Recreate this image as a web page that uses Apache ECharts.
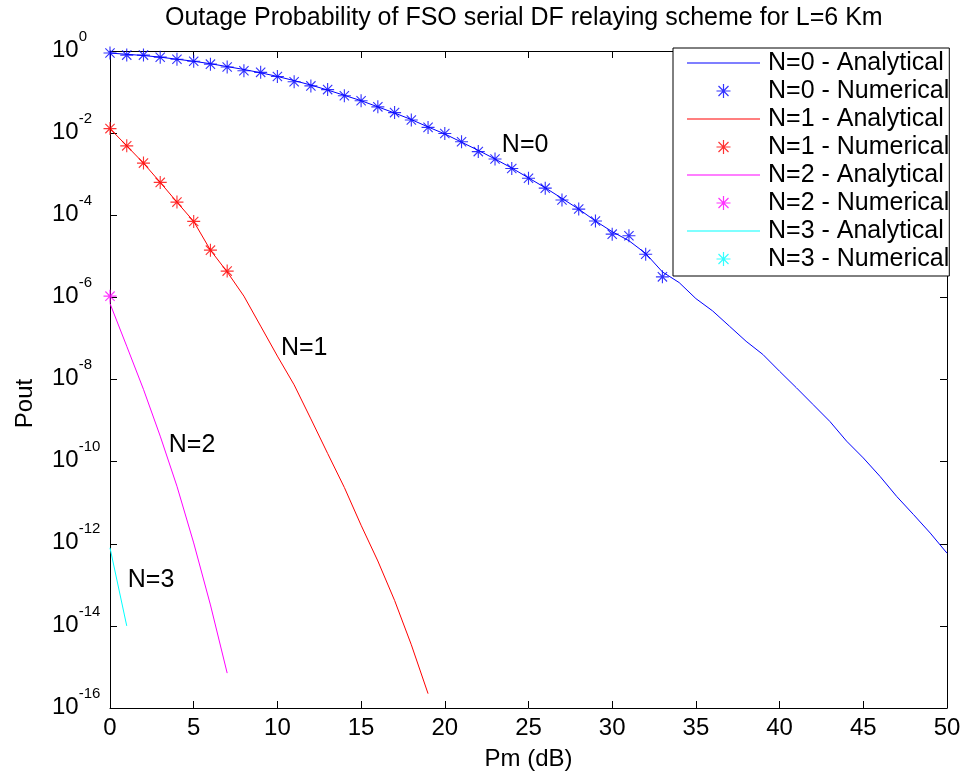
<!DOCTYPE html>
<html>
<head>
<meta charset="utf-8">
<script src="https://cdn.jsdelivr.net/npm/echarts@6/dist/echarts.min.js"></script>
<style>html,body{margin:0;padding:0;background:#fff}#c{width:964px;height:778px}</style>
</head>
<body>
<div id="c"></div>
<script>
// ---- data (y values are log10(Pout)) ----
const xTicks = [0, 5, 10, 15, 20, 25, 30, 35, 40, 45, 50];
const yTickExponents = [0, -2, -4, -6, -8, -10, -12, -14, -16];

const n0AnalyticX = [0,1,2,3,4,5,6,7,8,9,10,11,12,13,14,15,16,17,18,19,20,21,22,23,24,25,26,27,28,29,30,31,32,33,34,35,36,37,38,39,40,41,42,43,44,45,46,47,48,49,50];
const n0AnalyticLog = [-0.05,-0.08,-0.11,-0.15,-0.20,-0.25,-0.31,-0.38,-0.45,-0.53,-0.62,-0.72,-0.83,-0.95,-1.08,-1.21,-1.36,-1.51,-1.67,-1.85,-2.02,-2.22,-2.42,-2.63,-2.85,-3.09,-3.33,-3.59,-3.85,-4.14,-4.40,-4.62,-4.93,-5.38,-5.64,-6.03,-6.33,-6.70,-7.07,-7.39,-7.80,-8.20,-8.61,-9.02,-9.50,-9.91,-10.36,-10.85,-11.29,-11.74,-12.23];
const n0NumericX = [0,1,2,3,4,5,6,7,8,9,10,11,12,13,14,15,16,17,18,19,20,21,22,23,24,25,26,27,28,29,30,31,32,33];
const n0NumericLog = [-0.05,-0.10,-0.10,-0.15,-0.20,-0.25,-0.32,-0.39,-0.48,-0.52,-0.62,-0.75,-0.85,-0.94,-1.09,-1.21,-1.36,-1.50,-1.68,-1.86,-2.01,-2.21,-2.45,-2.63,-2.86,-3.10,-3.34,-3.63,-3.85,-4.14,-4.46,-4.50,-4.95,-5.50];

const n1AnalyticX = [0,1,2,3,4,5,6,7,8,9,10,11,12,13,14,15,16,17,18,19];
const n1AnalyticLog = [-1.89,-2.31,-2.73,-3.20,-3.68,-4.15,-4.85,-5.38,-5.97,-6.70,-7.43,-8.13,-8.96,-9.80,-10.63,-11.55,-12.42,-13.38,-14.46,-15.65];
const n1NumericX = [0,1,2,3,4,5,6,7];
const n1NumericLog = [-1.89,-2.31,-2.73,-3.20,-3.68,-4.15,-4.85,-5.36];

const n2AnalyticX = [0,1,2,3,4,5,6,7];
const n2AnalyticLog = [-6.15,-7.19,-8.24,-9.38,-10.60,-11.98,-13.49,-15.15];
const n2NumericX = [0];
const n2NumericLog = [-5.97];

const n3AnalyticX = [0,1];
const n3AnalyticLog = [-12.10,-14.00];
const n3NumericX = [];
const n3NumericLog = [];

const curveLabels = ['N=0', 'N=1', 'N=2', 'N=3'];
const curveLabelX = [24.8, 11.6, 4.9, 2.45];
const curveLabelLog = [-2.29, -7.24, -9.59, -12.88];

const legendNames = ['N=0 - Analytical','N=0 - Numerical','N=1 - Analytical','N=1 - Numerical',
                     'N=2 - Analytical','N=2 - Numerical','N=3 - Analytical','N=3 - Numerical'];
// ---------------------------------------------------------------

const FONT = 'Liberation Sans, Arial, sans-serif';
const STAR = 'path://M-7,-0.6L7,-0.6L7,0.6L-7,0.6Z M-0.6,-7L0.6,-7L0.6,7L-0.6,7Z M-4.58,-5.42L5.42,4.58L4.58,5.42L-5.42,-4.58Z M4.58,-5.42L5.42,-4.58L-4.58,5.42L-5.42,4.58Z';
const LINE_ICON = 'path://M0,-0.5L73,-0.5L73,0.5L0,0.5Z';

function pairs(xs, ys) { return xs.map((x, i) => [x, ys[i]]); }

function lineSeries(name, xs, ys, color, labelIdx) {
  const s = {
    name, type: 'line', data: pairs(xs, ys), symbol: 'none', showSymbol: false,
    lineStyle: { width: 1, color }, itemStyle: { color }, z: 2, animation: false,
    xAxisIndex: 0, yAxisIndex: 0
  };
  if (labelIdx != null) {
    s.markPoint = {
      symbol: 'rect', symbolSize: 1, itemStyle: { color: 'rgba(0,0,0,0)' }, animation: false,
      label: { show: true, position: 'inside', formatter: '{b}', color: '#000', fontSize: 25, fontFamily: FONT },
      data: [{ name: curveLabels[labelIdx], coord: [curveLabelX[labelIdx], curveLabelLog[labelIdx]] }]
    };
  }
  return s;
}
function starSeries(name, xs, ys, color) {
  return {
    name, type: 'scatter', data: pairs(xs, ys), symbol: STAR, symbolSize: 13,
    itemStyle: { color }, z: 3, animation: false, xAxisIndex: 0, yAxisIndex: 0
  };
}

const blue = '#0000ff', red = '#ff0000', mag = '#ff00ff', cyan = '#00ffff';

const axisLineStyle = { show: true, onZero: false, lineStyle: { color: '#000', width: 1 } };
const tickStyle = { show: true, inside: true, length: 7, lineStyle: { color: '#000', width: 1 } };

const legendData = legendNames.map(n => n.indexOf('Analytical') >= 0 ? { name: n, icon: LINE_ICON } : { name: n });

const chart = echarts.init(document.getElementById('c'), null, { renderer: 'canvas' });
chart.setOption({
  animation: false,
  backgroundColor: '#fff',
  title: {
    text: 'Outage Probability of FSO serial DF relaying scheme for L=6 Km',
    left: 160, top: 1,
    textStyle: { fontSize: 25, fontWeight: 'normal', color: '#000', fontFamily: FONT }
  },
  grid: { left: 110, right: 17, top: 51, bottom: 70, containLabel: false, outerBoundsMode: 'none' },
  legend: {
    orient: 'vertical', left: 673, top: 48,
    padding: [1, 0, 3, 14], itemGap: 0, itemWidth: 73, itemHeight: 14,
    symbolKeepAspect: true,
    backgroundColor: '#fff', borderColor: '#000', borderWidth: 1, borderRadius: 0,
    textStyle: { fontSize: 25, lineHeight: 28, color: '#000', fontFamily: FONT, padding: [0, 0, 0, 3] },
    selectedMode: false,
    data: legendData
  },
  xAxis: [
    {
      type: 'value', min: xTicks[0], max: xTicks[xTicks.length - 1], interval: xTicks[1] - xTicks[0],
      position: 'bottom', axisLine: axisLineStyle, axisTick: tickStyle,
      axisLabel: { margin: 8, fontSize: 24, color: '#000', fontFamily: FONT, showMinLabel: true, showMaxLabel: true },
      splitLine: { show: false },
      name: 'Pm (dB)', nameLocation: 'middle', nameGap: 39,
      nameTextStyle: { fontSize: 24, color: '#000', fontFamily: FONT }
    },
    {
      type: 'value', min: xTicks[0], max: xTicks[xTicks.length - 1], interval: xTicks[1] - xTicks[0],
      position: 'top', axisLine: axisLineStyle, axisTick: tickStyle,
      axisLabel: { show: false }, splitLine: { show: false }
    }
  ],
  yAxis: [
    {
      type: 'value', min: yTickExponents[yTickExponents.length - 1], max: yTickExponents[0], interval: 2,
      position: 'left', axisLine: axisLineStyle, axisTick: tickStyle,
      axisLabel: {
        margin: 58, align: 'left', color: '#000', fontFamily: FONT, showMinLabel: true, showMaxLabel: true,
        padding: [0, 0, 20, 0],
        formatter: v => '{b|10}{s|' + v + '}',
        rich: {
          b: { fontSize: 24, lineHeight: 24, padding: [9, 0, 0, 0], verticalAlign: 'top', color: '#000', fontFamily: FONT },
          s: { fontSize: 15, lineHeight: 15, verticalAlign: 'top', color: '#000', fontFamily: FONT }
        }
      },
      splitLine: { show: false },
      name: 'Pout', nameLocation: 'middle', nameGap: 73,
      nameTextStyle: { fontSize: 24, color: '#000', fontFamily: FONT, padding: [0, 48, 0, 0] }
    },
    {
      type: 'value', min: yTickExponents[yTickExponents.length - 1], max: yTickExponents[0], interval: 2,
      position: 'right', axisLine: axisLineStyle, axisTick: tickStyle,
      axisLabel: { show: false }, splitLine: { show: false }
    }
  ],
  series: [
    lineSeries(legendNames[0], n0AnalyticX, n0AnalyticLog, blue, 0),
    starSeries(legendNames[1], n0NumericX, n0NumericLog, blue),
    lineSeries(legendNames[2], n1AnalyticX, n1AnalyticLog, red, 1),
    starSeries(legendNames[3], n1NumericX, n1NumericLog, red),
    lineSeries(legendNames[4], n2AnalyticX, n2AnalyticLog, mag, 2),
    starSeries(legendNames[5], n2NumericX, n2NumericLog, mag),
    lineSeries(legendNames[6], n3AnalyticX, n3AnalyticLog, cyan, 3),
    starSeries(legendNames[7], n3NumericX, n3NumericLog, cyan)
  ]
});
</script>
</body>
</html>
